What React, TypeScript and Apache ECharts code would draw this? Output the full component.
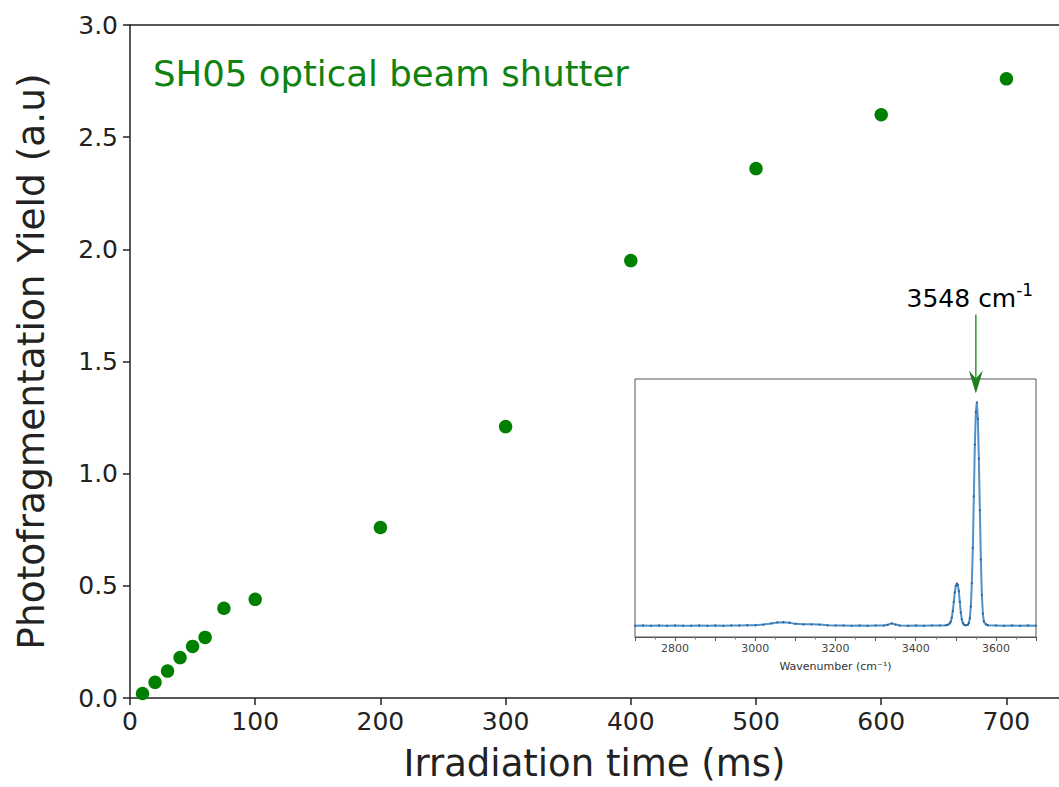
import React, { useEffect, useRef } from "react";
import * as echarts from "echarts";

// Main data: irradiation time (ms) vs photofragmentation yield (a.u.)
const timeMs = [10, 20, 30, 40, 50, 60, 75, 100, 200, 300, 400, 500, 600, 700];
const yieldAU = [0.02, 0.07, 0.12, 0.18, 0.23, 0.27, 0.4, 0.44, 0.76, 1.21, 1.95, 2.36, 2.6, 2.76];

const yTicks = [0, 0.5, 1.0, 1.5, 2.0, 2.5, 3.0];
const xTicks = [0, 100, 200, 300, 400, 500, 600, 700];

// Inset spectrum (wavenumber cm^-1 vs intensity, arbitrary)
const waveNumbers = [
  2700, 2720, 2740, 2760, 2780, 2800, 2820, 2840, 2860, 2880, 2900, 2920, 2940, 2960, 2980,
  3000, 3020, 3040, 3055, 3070, 3085, 3100, 3120, 3140, 3160, 3180, 3200, 3220, 3240, 3260,
  3280, 3300, 3320, 3330, 3340, 3350, 3360, 3380, 3400, 3420, 3440, 3460, 3475, 3480, 3485,
  3487.5, 3490, 3492.5, 3495, 3497.5, 3500, 3502.5, 3505, 3507.5, 3510, 3512.5, 3515, 3517.5,
  3520, 3525, 3530, 3532.5, 3535, 3537.5, 3540, 3542.5, 3545, 3547.5, 3550, 3552.5, 3555,
  3557.5, 3560, 3562.5, 3565, 3567.5, 3570, 3575, 3580, 3600, 3620, 3640, 3660, 3680, 3700,
];
const intensity = [
  0.048, 0.049, 0.048, 0.049, 0.048, 0.049, 0.048, 0.048, 0.049, 0.048, 0.049, 0.048, 0.049, 0.049, 0.05,
  0.05, 0.053, 0.058, 0.062, 0.063, 0.061, 0.056, 0.054, 0.054, 0.053, 0.05, 0.049, 0.049, 0.048, 0.049,
  0.048, 0.049, 0.049, 0.052, 0.058, 0.053, 0.049, 0.048, 0.049, 0.048, 0.049, 0.049, 0.05, 0.052, 0.058,
  0.066, 0.083, 0.11, 0.15, 0.19, 0.218, 0.228, 0.222, 0.196, 0.15, 0.105, 0.075, 0.06,
  0.053, 0.05, 0.052, 0.06, 0.08, 0.13, 0.23, 0.38, 0.6, 0.82, 0.96, 1.0, 0.93,
  0.76, 0.54, 0.33, 0.18, 0.1, 0.066, 0.054, 0.05, 0.049, 0.048, 0.049, 0.048, 0.049, 0.048,
];

const peakLabel = "3548 cm";
const peakSup = "-1";
const titleText = "SH05 optical beam shutter";

const FONT = "DejaVu Sans";
const AXIS_COLOR = "#222";

export default function App() {
  const ref = useRef<HTMLDivElement>(null);

  useEffect(() => {
    const chart = echarts.init(ref.current!, null, { renderer: "svg" });
    const mainData = timeMs.map((t, i) => [t, yieldAU[i]]);
    const specData = waveNumbers.map((w, i) => [w, intensity[i]]);

    const option: any = {
      animation: false,
      backgroundColor: "#fff",
      textStyle: { fontFamily: FONT },
      title: {
        text: titleText,
        left: 148,
        top: 50,
        textStyle: { fontFamily: FONT, fontSize: 35.5, fontWeight: "normal", color: "#0f820f" },
      },
      grid: [
        { left: 130, top: 25, right: 0, bottom: 84 },
        {
          left: 635,
          top: 379,
          right: 23,
          bottom: 150,
          show: true,
          backgroundColor: "#fff",
          borderColor: "#555",
          borderWidth: 1,
        },
      ],
      xAxis: [
        {
          type: "value",
          gridIndex: 0,
          min: 0,
          max: 742,
          interval: 100,
          name: "Irradiation time (ms)",
          nameLocation: "middle",
          nameGap: 47,
          nameTextStyle: { fontFamily: FONT, fontSize: 37, color: AXIS_COLOR },
          axisLine: { show: true, lineStyle: { color: AXIS_COLOR, width: 1.5 } },
          axisTick: { show: true, length: 7, lineStyle: { color: AXIS_COLOR, width: 1.5 } },
          axisLabel: {
            fontFamily: FONT,
            fontSize: 25,
            color: AXIS_COLOR,
            margin: 11,
            showMaxLabel: false,
            formatter: (v: number) => (xTicks.includes(v) ? String(v) : ""),
          },
          splitLine: { show: false },
        },
        {
          type: "value",
          gridIndex: 0,
          position: "top",
          min: 0,
          max: 742,
          axisLine: { show: true, lineStyle: { color: AXIS_COLOR, width: 1.5 } },
          axisTick: { show: false },
          axisLabel: { show: false },
          splitLine: { show: false },
        },
        {
          type: "value",
          gridIndex: 1,
          min: 2700,
          max: 3700,
          interval: 100,
          name: "Wavenumber (cm⁻¹)",
          nameLocation: "middle",
          nameGap: 24,
          nameTextStyle: { fontFamily: FONT, fontSize: 11, color: "#333" },
          axisLine: { show: true, lineStyle: { color: "#555", width: 1 } },
          axisTick: { show: true, length: 4, lineStyle: { color: "#555", width: 1 } },
          minorTick: { show: true, splitNumber: 2, length: 2.5, lineStyle: { color: "#777" } },
          axisLabel: {
            fontFamily: FONT,
            fontSize: 11,
            color: "#444",
            margin: 6,
            formatter: (v: number) => (v % 200 === 0 ? String(v) : ""),
          },
          splitLine: { show: false },
        },
      ],
      yAxis: [
        {
          type: "value",
          gridIndex: 0,
          min: 0,
          max: 3,
          interval: 0.5,
          name: "Photofragmentation Yield (a.u)",
          nameLocation: "middle",
          nameGap: 80,
          nameTextStyle: { fontFamily: FONT, fontSize: 37.5, color: AXIS_COLOR },
          axisLine: { show: true, lineStyle: { color: AXIS_COLOR, width: 1.5 } },
          axisTick: { show: true, length: 7, lineStyle: { color: AXIS_COLOR, width: 1.5 } },
          axisLabel: {
            fontFamily: FONT,
            fontSize: 25,
            color: AXIS_COLOR,
            margin: 12,
            formatter: (v: number) => (yTicks.includes(v) ? v.toFixed(1) : ""),
          },
          splitLine: { show: false },
        },
        {
          type: "value",
          gridIndex: 1,
          min: 0,
          max: 1.1,
          show: false,
          splitLine: { show: false },
        },
      ],
      series: [
        {
          type: "scatter",
          xAxisIndex: 0,
          yAxisIndex: 0,
          data: mainData,
          symbolSize: 13.5,
          itemStyle: { color: "#008000", opacity: 1 },
          z: 5,
        },
        {
          type: "line",
          xAxisIndex: 2,
          yAxisIndex: 1,
          data: specData,
          showSymbol: true,
          symbol: "circle",
          symbolSize: 2,
          itemStyle: { color: "#2a5f93" },
          lineStyle: { color: "#4f92cc", width: 2 },
          z: 3,
        },
      ],
    };
    chart.setOption(option);

    // Annotation arrow pointing to the spectrum maximum
    let maxIdx = 0;
    intensity.forEach((v, i) => {
      if (v > intensity[maxIdx]) maxIdx = i;
    });
    const p = chart.convertToPixel({ seriesIndex: 1 }, [waveNumbers[maxIdx], intensity[maxIdx]]) as number[];
    const px = p[0] - 1;
    const py = p[1];
    chart.setOption({
      graphic: [
        {
          type: "line",
          shape: { x1: px, y1: py - 88, x2: px, y2: py - 22 },
          style: { stroke: "#2e9a2e", lineWidth: 1.5 },
          z: 20,
        },
        {
          type: "polygon",
          shape: {
            points: [
              [px - 7, py - 32],
              [px, py - 9],
              [px + 7, py - 32],
              [px, py - 24],
            ],
          },
          style: { fill: "#1f7f1f" },
          z: 20,
        },
        {
          type: "text",
          x: px - 6,
          y: py - 106,
          style: {
            text: `{a|${peakLabel}}{b|${peakSup}}`,
            align: "center",
            verticalAlign: "middle",
            rich: {
              a: { fontFamily: FONT, fontSize: 25, color: "#111", lineHeight: 30, verticalAlign: "bottom" },
              b: { fontFamily: FONT, fontSize: 17, color: "#111", lineHeight: 30, verticalAlign: "top" },
            },
          },
          z: 20,
        },
      ],
    });

    return () => chart.dispose();
  }, []);

  return (
    <div
      ref={ref}
      style={{ position: "fixed", left: 0, top: 0, width: 1059, height: 787 }}
    />
  );
}
